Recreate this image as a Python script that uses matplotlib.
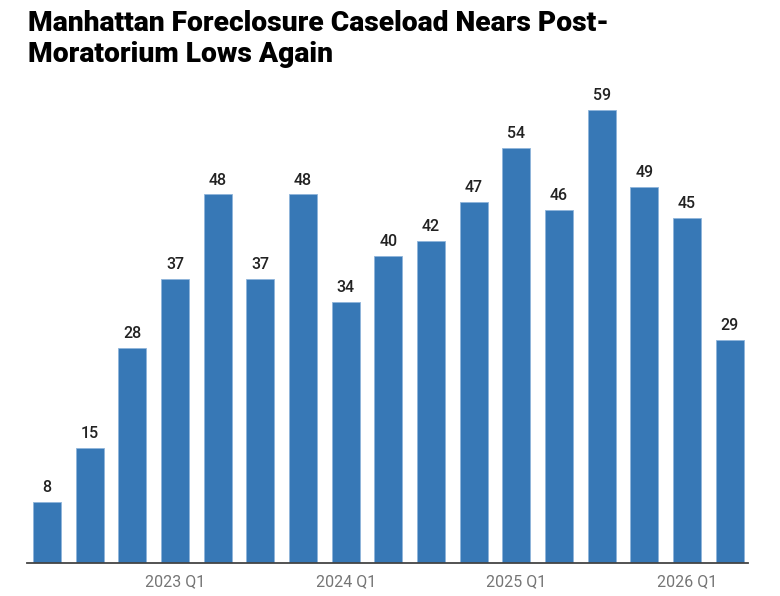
import matplotlib
matplotlib.use("Agg")
import matplotlib.pyplot as plt

# quarterly foreclosure caseload, 2022 Q2 .. 2026 Q2
quarters = ["2022 Q2", "2022 Q3", "2022 Q4", "2023 Q1", "2023 Q2", "2023 Q3",
            "2023 Q4", "2024 Q1", "2024 Q2", "2024 Q3", "2024 Q4", "2025 Q1",
            "2025 Q2", "2025 Q3", "2025 Q4", "2026 Q1", "2026 Q2"]
cases = [8, 15, 28, 37, 48, 37, 48, 34, 40, 42, 47, 54, 46, 59, 49, 45, 29]
shown_ticks = ["2023 Q1", "2024 Q1", "2025 Q1", "2026 Q1"]

plt.rcParams['font.family'] = ['Roboto', 'DejaVu Sans']

fig = plt.figure(figsize=(7.8, 5.96), dpi=100)
ax = fig.add_axes([27 / 780, 1 - 563 / 596, 721 / 780, (563 - 87) / 596])

x = list(range(len(cases)))
bars = ax.bar(x, cases, width=0.66, color='#3778b6', edgecolor='#8fb4da', linewidth=0.6)
for xi, v in zip(x, cases):
    ax.annotate(str(v), (xi, v), xytext=(0, 5), textcoords='offset points',
                ha='center', va='bottom', fontsize=11.5, fontweight='medium', color='#222222')

ax.set_xlim(-0.47, 16.43)
ax.set_ylim(0, 62)
tick_pos = [quarters.index(q) for q in shown_ticks]
ax.set_xticks(tick_pos)
ax.set_xticklabels(shown_ticks, fontsize=11.5, color='#757575')
ax.tick_params(axis='x', length=0, pad=8)
ax.set_yticks([])
for s in ['top', 'right', 'left']:
    ax.spines[s].set_visible(False)
ax.spines['bottom'].set_color('#444444')
ax.spines['bottom'].set_linewidth(1.3)

fig.text(28 / 780, 1 - 10 / 596, "Manhattan Foreclosure Caseload Nears Post-\nMoratorium Lows Again",
         ha='left', va='top', fontsize=20.3, fontweight='black', color='black', linespacing=1.17)

fig.savefig("out.png", dpi=100)
